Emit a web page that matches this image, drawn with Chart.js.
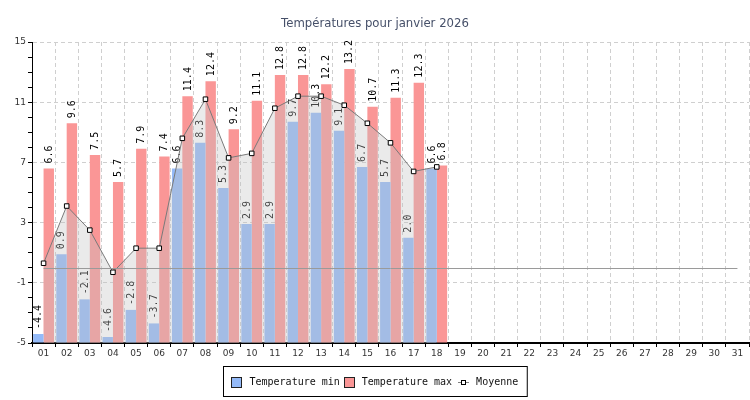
<!DOCTYPE html>
<html>
<head>
<meta charset="utf-8">
<script src="https://cdn.jsdelivr.net/npm/chart.js@4.4.1/dist/chart.umd.min.js"></script>
<style>
  body { margin: 0; background: #fff; }
  canvas { display: block; }
</style>
</head>
<body>
<canvas id="graph" width="750" height="400"></canvas>
<script>
// === DONNEES ===
const jours = ["01","02","03","04","05","06","07","08","09","10","11","12","13","14","15","16",
               "17","18","19","20","21","22","23","24","25","26","27","28","29","30","31"];
const tempMin = [-4.4, 0.9, -2.1, -4.6, -2.8, -3.7, 6.6, 8.3, 5.3, 2.9, 2.9, 9.7, 10.3, 9.1, 6.7, 5.7, 2.0, 6.6];
const tempMax = [6.6, 9.6, 7.5, 5.7, 7.9, 7.4, 11.4, 12.4, 9.2, 11.1, 12.8, 12.8, 12.2, 13.2, 10.7, 11.3, 12.3, 6.8];
const moyenne = [0.3, 4.1, 2.5, -0.3, 1.3, 1.3, 8.6, 11.2, 7.3, 7.6, 10.6, 11.4, 11.4, 10.8, 9.6, 8.3, 6.4, 6.7];
const Y_MIN = -5;
const Y_MAX = 15;
const titre = "Températures pour janvier 2026";
const legendes = ["Temperature min", "Temperature max", "Moyenne"];

const BLEU = "rgb(148,186,248)";
const ROUGE = "rgb(250,150,150)";

// === PLUGINS ===
// valeurs verticales au-dessus des barres
const etiquettes = {
    id: "etiquettes",
    afterDatasetDraw(chart, args) {
        if (args.meta.type !== "bar") return;
        const ctx = chart.ctx;
        const valeurs = chart.data.datasets[args.index].data;
        ctx.save();
        ctx.font = "10px 'DejaVu Sans Mono'";
        ctx.fillStyle = "#000";
        ctx.textAlign = "left";
        ctx.textBaseline = "middle";
        args.meta.data.forEach((bar, i) => {
            const v = valeurs[i];
            if (v === null || v === undefined) return;
            ctx.save();
            ctx.translate(Math.round(bar.x) + 0.5, bar.y - 5);
            ctx.rotate(-Math.PI / 2);
            ctx.fillText(v.toFixed(1), 0, 0);
            ctx.restore();
        });
        ctx.restore();
    }
};

// ligne du zéro, titre et légende encadrée
const decor = {
    id: "decor",
    afterDatasetsDraw(chart) {
        const ctx = chart.ctx;
        const x = chart.scales.x, y = chart.scales.y;
        const y0 = Math.round(y.getPixelForValue(0)) + 0.5;
        ctx.save();
        ctx.strokeStyle = "#9a9a9a";
        ctx.lineWidth = 1;
        ctx.beginPath();
        ctx.moveTo(x.getPixelForValue(0), y0);
        ctx.lineTo(x.getPixelForValue(jours.length - 1), y0);
        ctx.stroke();
        ctx.restore();
    },
    afterDraw(chart) {
        const ctx = chart.ctx;
        ctx.save();
        // titre
        ctx.font = "11.7px 'DejaVu Sans'";
        ctx.fillStyle = "#465069";
        ctx.textAlign = "center";
        ctx.textBaseline = "middle";
        ctx.fillText(titre, 375, 24);

        // légende
        ctx.font = "10px 'DejaVu Sans Mono'";
        const w = legendes.map(t => ctx.measureText(t).width);
        const largeur = 7 + 10 + 9 + w[0] + 4 + 10 + 8 + w[1] + 6 + 11 + 7 + w[2] + 9;
        const bx = Math.round(375 - largeur / 2) + 0.5;
        const by = 366.5;
        ctx.fillStyle = "#fff";
        ctx.fillRect(bx, by, largeur, 30);
        ctx.strokeStyle = "#000";
        ctx.lineWidth = 1;
        ctx.strokeRect(bx, by, largeur, 30);

        const cy = by + 15;
        let cx = bx + 7;
        ctx.textAlign = "left";
        ctx.textBaseline = "middle";
        [BLEU, ROUGE].forEach((c, i) => {
            ctx.fillStyle = c;
            ctx.fillRect(Math.round(cx), Math.round(cy - 5), 10, 10);
            ctx.strokeStyle = "#222";
            ctx.strokeRect(Math.round(cx) + 0.5, Math.round(cy - 5) + 0.5, 10, 10);
            cx += 10 + (i === 0 ? 9 : 8);
            ctx.fillStyle = "#111";
            ctx.fillText(legendes[i], cx, cy + 1);
            cx += w[i] + (i === 0 ? 4 : 6);
        });
        ctx.strokeStyle = "#808080";
        ctx.beginPath();
        ctx.moveTo(Math.round(cx), Math.round(cy) + 0.5);
        ctx.lineTo(Math.round(cx) + 11, Math.round(cy) + 0.5);
        ctx.stroke();
        ctx.fillStyle = "#fff";
        ctx.strokeStyle = "#000";
        ctx.fillRect(Math.round(cx) + 3.5, Math.round(cy) - 1.5, 4, 4);
        ctx.strokeRect(Math.round(cx) + 3.5, Math.round(cy) - 1.5, 4, 4);
        cx += 11 + 7;
        ctx.fillStyle = "#111";
        ctx.fillText(legendes[2], cx, cy + 1);
        ctx.restore();
    }
};

// === GRAPHIQUE ===
new Chart(document.getElementById("graph").getContext("2d"), {
    data: {
        labels: jours,
        datasets: [
            {
                type: "line",
                label: legendes[2],
                data: moyenne,
                order: 0,
                borderColor: "#7a7a7a",
                borderWidth: 1,
                tension: 0,
                fill: "start",
                backgroundColor: "rgba(192,192,192,0.34)",
                pointStyle: "rect",
                pointRadius: 3.2,
                pointBorderWidth: 1,
                pointBorderColor: "#000",
                pointBackgroundColor: "#fff"
            },
            {
                type: "bar",
                label: legendes[0],
                data: tempMin,
                order: 1,
                base: Y_MIN,
                backgroundColor: BLEU,
                categoryPercentage: 0.9,
                barPercentage: 1.0
            },
            {
                type: "bar",
                label: legendes[1],
                data: tempMax,
                order: 1,
                base: Y_MIN,
                backgroundColor: ROUGE,
                categoryPercentage: 0.9,
                barPercentage: 1.0
            }
        ]
    },
    options: {
        responsive: false,
        animation: false,
        devicePixelRatio: 1,
        layout: { autoPadding: false, padding: { top: 42, right: 1, left: 0, bottom: 0 } },
        plugins: {
            legend: { display: false },
            title: { display: false },
            tooltip: { enabled: false }
        },
        scales: {
            x: {
                offset: true,
                grid: {
                    offset: true,
                    color: "#cfcfcf",
                    tickColor: "#000",
                    tickLength: 4,
                    tickWidth: 1,
                    lineWidth: 1
                },
                border: { color: "#000", width: 2, dash: [4, 3] },
                ticks: {
                    autoSkip: false,
                    maxRotation: 0,
                    padding: 1,
                    color: "#333",
                    font: { family: "'DejaVu Sans'", size: 9 }
                },
                afterFit(scale) {
                    scale.height = 57;
                    scale.paddingRight = 0;
                    scale.paddingLeft = 0;
                }
            },
            y: {
                min: Y_MIN,
                max: Y_MAX,
                grid: {
                    color: c => (c.tick && Math.round(c.tick.value - Y_MIN) % 4 === 0) ? "#cfcfcf" : "rgba(0,0,0,0)",
                    tickColor: "#000",
                    tickLength: 4,
                    tickWidth: 1,
                    lineWidth: 1
                },
                border: { color: "#000", width: 1, dash: [4, 3] },
                ticks: {
                    stepSize: 1,
                    autoSkip: false,
                    padding: 2,
                    color: "#333",
                    font: { family: "'DejaVu Sans'", size: 9 },
                    callback: v => (Math.round(v - Y_MIN) % 4 === 0) ? String(v) : ""
                },
                afterFit(scale) { scale.width = 32; }
            }
        }
    },
    plugins: [etiquettes, decor]
});
</script>
</body>
</html>
